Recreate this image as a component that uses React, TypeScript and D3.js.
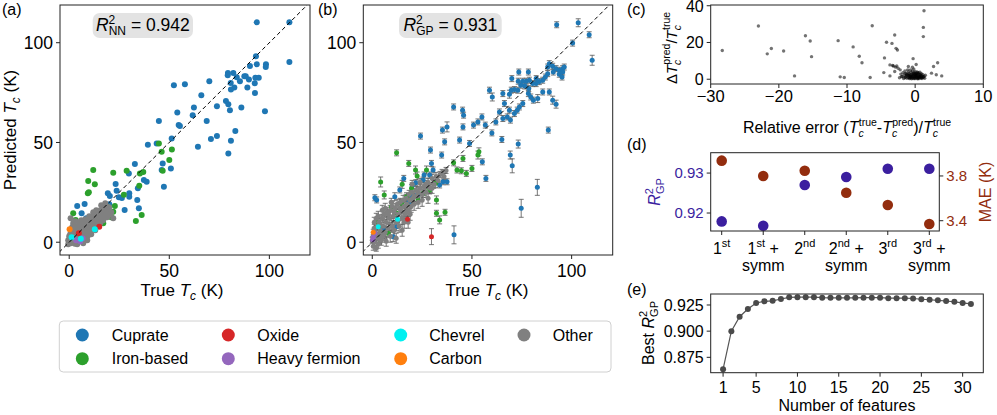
import * as d3 from "d3";
import React from "react";

const FONT = "'Liberation Sans', Arial, Helvetica, sans-serif";

// classes + colours (legend order, column-major)
const classNames = ["Cuprate", "Iron-based", "Oxide", "Heavy fermion", "Chevrel", "Carbon", "Other"];
const classColors = ["#1f77b4", "#2ca02c", "#d62728", "#9467bd", "#00f0f0", "#ff7f0e", "#808080"];

// (a) true Tc vs NN predicted Tc
const cuprateA = [
  [93.7, 110.2], [110, 110.2], [110, 90.3], [93.3, 93.2], [93.7, 89.2], [98.3, 89.2], [90.3, 88.3], [98.2, 87.8],
  [79.3, 84.8], [82, 84.8], [79.2, 83.7], [83.7, 82.7], [87.5, 83.2], [88.2, 83.2], [85.3, 80.7], [89.8, 81.5],
  [80.7, 79.8], [93, 82.5], [94.7, 82.5], [82.5, 77.5], [80.8, 76.5], [89, 77.5], [92.7, 79.7], [92.8, 74.8],
  [70, 80.7], [57.8, 79.2], [52.3, 78.7], [66, 73.7], [78.3, 70.8], [79.5, 69.2], [80.3, 66.2], [86, 67.5],
  [62.3, 67.5], [68.7, 60.8], [54, 65], [61.7, 63.7], [54.7, 58.7], [55.3, 58.2], [44.8, 60.8], [73.8, 68.2],
  [97.8, 65.7], [70.8, 51.8], [73.8, 53.2], [83, 55.7], [80.8, 50.8], [64.3, 47.8], [79.5, 44.5], [51.2, 52],
  [39.3, 48.8], [43.7, 49.5], [32.8, 39.2], [46.7, 39.5], [46.2, 36.2], [50.8, 37], [47.3, 27.8], [37.3, 31.2],
  [38.7, 30.3], [29.8, 34.5], [23.2, 29.2], [19.3, 24.5], [23.7, 25.8], [20.3, 23.2], [24.8, 22.5], [26.3, 22.2],
  [30, 24.5], [30, 22.8], [34.3, 27], [34, 21.2], [34.8, 17], [27.7, 16.2], [4, 18.2], [7.7, 19.2], [6.2, 14.5],
  [14, 14.5], [16.5, 15.5], [12, 13], [18, 18.5], [10.5, 11], [8.5, 12], [20, 19],
];
const ironA = [
  [44.8, 49.5], [46.2, 45.3], [51.3, 46.5], [50, 41.2], [46.7, 35.8], [35.3, 34.5], [37, 35.2], [12, 36.2],
  [22, 34.8], [28.7, 35.8], [9.5, 30.7], [12.8, 29], [9.3, 24.5], [9.8, 25], [27.3, 23.8], [35, 28.3],
  [22.8, 18.2], [33.3, 10.7], [36.2, 13.7], [2, 14.5], [3.2, 11.2], [22, 15.3], [16.2, 14.5], [18.7, 16.2],
  [7.8, 9.5], [17, 9.5], [21, 12.5], [19.5, 17.5], [13.5, 8.5], [5, 8],
];
const otherA = [
  [0, 0.5], [0.3, 2], [0.8, -0.5], [1, 1.2], [1.2, 3], [1.5, 0.3], [1.8, 2.2], [2, 4], [2.2, 1], [2.5, 3],
  [2.8, -0.8], [3, 5], [3, 2], [3.3, 0.5], [3.5, 3.8], [3.8, 6], [4, 1.5], [4.2, 4.5], [4.5, 2.8], [4.8, 7],
  [5, 5], [5.2, 0.8], [5.5, 3.5], [5.8, 6], [6, 8.5], [6.2, 2], [6.5, 4.8], [6.8, 7], [7, 3], [7.3, 9],
  [7.5, 5.5], [7.8, 1.5], [8, 7.5], [8.3, 4], [8.5, 10], [8.8, 6], [9, 8.5], [9.2, 3], [9.5, 11], [9.8, 7],
  [10, 9.5], [10.3, 5], [10.5, 12], [10.8, 8], [11, 10.5], [11.3, 6.5], [11.5, 13], [12, 9], [12.3, 11.5],
  [12.5, 7], [13, 14], [13.2, 10], [13.5, 12.5], [14, 8.5], [14.2, 15], [14.5, 11.5], [15, 13.5], [15.5, 16],
  [16, 12], [16.5, 14.5], [17, 17], [17.5, 13], [18, 15.5], [18.5, 18], [19, 16.5], [19.5, 14], [20, 17.5],
  [21, 15], [22, 12], [1, 6], [2, 8], [0.5, 4], [-0.5, 1], [0.7, 12], [3, 10.5], [6, 11], [4, -1], [7, -0.5],
  [9, 1], [2, 9.5], [5, 10], [1.5, 7.5], [3.5, 8], [6.5, 9.5], [8, 11.5], [10, 13], [12, 15], [13.5, 16],
  [16, 18.5], [18, 19.5], [11, 4], [13, 6], [15.5, 9.5], [17, 11], [19, 12.5], [20.5, 14], [0, 3], [-0.5, -1],
];
const oxideA = [[15, 7.8], [4.8, 4.5]];
const hfA = [[6.7, 2], [3.5, 1], [5.5, 0.5]];
const chevrelA = [[12.8, 6.5], [1.2, 2.5], [5.8, 1.7]];
const carbonA = [[0.2, 6.5]];

// (b) true Tc vs GP predicted Tc with std
const cuprateB = [
  [92.5, 109, 1.5], [103.3, 110, 2], [108.8, 104, 1.5], [100.5, 99.8, 1.5], [110.3, 91.2, 2.5],
  [88.8, 89.5, 1.5], [88, 87.8, 1.5], [90.5, 88.2, 1.5], [92.2, 87, 1.5], [93.8, 86.2, 1.5], [95.5, 87, 1.5],
  [90.8, 85.3, 1.5], [88, 84.5, 1.5], [86.8, 82.8, 1.5], [85.5, 81.2, 1.5], [83.8, 80.5, 1.5], [82.2, 79.5, 1.5],
  [78.8, 81.2, 1.5], [77.2, 80.7, 1.5], [75.5, 80.7, 1.5], [73.2, 80.7, 1.5], [74.5, 78.7, 1.5], [76.5, 78.3, 1.5],
  [78.5, 77, 1.5], [80.5, 79.5, 1.5], [82.2, 82, 1.5], [73, 76.2, 1.5], [71.3, 76.5, 1.5], [69.7, 76.2, 1.5],
  [78.3, 74.5, 1.5], [79.5, 72.8, 1.5], [80.8, 71.2, 1.5], [83, 72, 2], [85.5, 75.3, 1.5], [88.8, 75.3, 1.5],
  [90.5, 71.2, 2], [93.8, 84.2, 1.5], [95.5, 85.3, 1.5], [96.3, 87.8, 1.5], [95.2, 82.8, 1.5], [65.5, 74.5, 1.5],
  [68.8, 74.2, 2], [73.5, 85.3, 1.5], [78.3, 85.3, 1.5], [70, 82, 1.5], [58.8, 76.2, 1.5], [60.2, 72.8, 2],
  [66.3, 69.5, 1.5], [68.8, 66.2, 1.5], [71.3, 64.5, 1.5], [72.7, 66.2, 1.5], [73.8, 67.8, 1.5], [75.5, 69.5, 1.5],
  [63.8, 65.3, 1.5], [65.5, 62, 1.5], [67.7, 62.8, 1.5], [69.3, 61.2, 1.5], [62, 60.3, 1.5], [56.7, 58.7, 1.5],
  [55, 62.8, 1.5], [53, 60.3, 1.5], [50.8, 58.7, 1.5], [45.5, 57.8, 1.5], [37.5, 57.8, 2.5], [40.8, 67.8, 1.5],
  [45.3, 66.2, 1.5], [45.8, 63.7, 1.5], [35.2, 56.2, 1.5], [36.3, 50.3, 1.5], [24.2, 53.2, 1.5], [43.8, 51.2, 1.5],
  [48.8, 49.5, 1.5], [60, 54.8, 1.5], [65, 51.5, 1.5], [73.2, 49.2, 2], [88.3, 56.2, 1.5], [92.2, 69.2, 2],
  [69.2, 43.7, 2], [70.2, 38.3, 3.5], [55.2, 40.3, 1.5], [57, 32, 1.5], [82.8, 27.5, 4], [74.7, 17, 4.5],
  [41, 3.7, 4.5], [29.2, 46.2, 1.5], [34.8, 43.7, 1.5], [29.7, 39.5, 1.5], [30.5, 36.2, 1.5], [28.8, 33.7, 1.5],
  [25.5, 31.2, 1.5], [26, 33.7, 1.5], [35.5, 30.3, 1.5], [37.5, 30.3, 1.5], [33.8, 28.7, 1.5], [19.7, 23.7, 1.5],
  [22.7, 23.7, 1.5], [18.5, 20.3, 1.5], [13.8, 26.2, 1.5], [11.3, 22.8, 2], [1.3, 22.3, 1.5], [2.2, 21.2, 1.5],
  [15.8, 32, 1.5], [20, 28.3, 1.5], [21.8, 29.8, 1.5], [12.2, 7.8, 2], [10.5, 2.8, 2.5], [5.5, 6.2, 2],
];
const ironB = [
  [12.2, 44.8, 1.5], [18.3, 39.5, 1.5], [4.2, 30.2, 2.5], [6, 23.7, 2], [15, 29, 2], [19.7, 27, 2],
  [21.7, 36.2, 2], [22.5, 33.2, 2], [27.2, 36.2, 2], [31.8, 29.5, 2], [36.5, 15, 1.5], [33.8, 11.2, 2],
  [32.2, 14.5, 1.5], [40.8, 39.8, 1.5], [45.5, 42, 1.5], [53.5, 45.3, 2], [53, 43.7, 2], [42.5, 36.2, 1.5],
  [44.7, 35.8, 1.5], [47.2, 34.5, 1.5], [50, 37, 1.5], [9.7, 17.8, 2], [14.7, 19.5, 2], [2.2, 10.3, 2],
  [3.8, 1.5, 2], [8, 4.5, 2], [12.2, 14.5, 2], [25.5, 24.5, 2], [28.8, 26.2, 2], [32.2, 21.2, 2], [23, 21.2, 2],
  [17.2, 22.8, 2],
];
const otherB = [
  [0, 1, 1.5], [0.5, 3, 2], [1, 0, 2], [1.5, 5, 2], [2, 2, 2.5], [2.5, 8, 2], [3, 4, 3], [3, -1, 2],
  [3.5, 10, 2.5], [4, 6, 3], [4.5, 1, 2.5], [5, 12, 2], [5, 3, 3], [5.5, 8, 3], [6, 14, 2.5], [6.5, 5, 3],
  [7, 10, 3], [7, 0.5, 2.5], [7.5, 15, 2.5], [8, 7, 3], [8.5, 12, 3], [9, 3, 3], [9, 16, 2.5], [9.5, 9, 3],
  [10, 18, 2.5], [10.5, 13, 3], [11, 6, 3], [11.5, 17, 2.5], [12, 10, 3], [12.5, 19, 2.5], [13, 14, 3],
  [13.5, 8, 3], [14, 20, 2], [14.5, 16, 3], [15, 12, 3], [15.5, 21, 2.5], [16, 18, 2.5], [16.5, 14, 3],
  [17, 22, 2], [17.5, 19, 2.5], [18, 16, 3], [18.5, 24, 2], [19, 21, 2.5], [19.5, 18, 3], [20, 25, 2],
  [20.5, 22, 2.5], [21, 19, 3], [22, 26, 2], [22.5, 23, 2.5], [23, 20, 3], [24, 27, 2], [25, 24, 2.5],
  [26, 28, 2], [27, 25, 2.5], [28, 30, 2], [29, 27, 2], [30, 32, 2], [31, 29, 2], [32, 33, 2], [33, 31, 2],
  [34, 34, 1.5], [35, 35, 1.5], [36, 33, 1.5], [37, 36, 1.5], [24, 30, 2], [20, 29, 2], [28, 22, 2.5],
  [12, 2, 2.5], [15, 6, 3], [18, 10, 3], [5, 16, 2.5], [2, 12, 2.5], [1, 7, 2], [0.5, -2, 2], [2, -3, 1.5],
  [4, 9, 3], [6, 4, 3], [8, 14, 2.5], [10, 8, 3], [11, 15, 3], [13, 11, 3], [14, 17, 2.5], [16, 10, 3],
  [17, 15, 3], [19, 14, 3], [21, 23, 2.5], [23, 25, 2.5], [25, 21, 3], [26, 26, 2.5], [27, 29, 2], [30, 27, 2.5],
  [1, 10, 2.5], [3, 13, 2.5], [6.5, 17, 2.5], [9.5, 20, 2], [1.5, 2.5, 2], [4.5, 4.5, 3], [3.5, 1.5, 2.5],
];
const oxideB = [[29.7, 2.8, 4], [17.7, 11.5, 2]];
const hfB = [[0.2, 1.2, 1.5], [1.3, 4.5, 1.5], [0.5, 2.5, 1.5]];
const chevrelB = [[12.7, 11.5, 1.5], [3, 7.8, 1.5]];
const carbonB = [[0.5, 5, 1.5]];

// (c) relative error vs relative std
const relErr = [
  [-28.3, 15.6], [-23, 29], [-21.7, 13.8], [-21.1, 16.7], [-19.3, 15.4], [-17.7, 1.8], [-16.1, 23.7],
  [-15.4, 20.8], [-15.2, 12.3], [-11.3, 21], [-11, 1.3], [-10.4, 0.9], [-9.1, 17.6], [-8.2, 12.5], [-7.8, 9],
  [-6.6, 0.9], [-6.3, 29.1], [-4.5, 11.6], [-4.2, 20.1], [-3.4, 19.5], [-3, 24.1], [-2.8, 16.8], [-2.6, 15.9],
  [-0.3, 11.2], [0.15, 8], [1.3, 37.3], [1.2, 28.2], [1.2, 23.2], [3.3, 9], [2.7, 6.9], [-4.6, 3.6],
  [-3.7, 1.8], [-3, 4.2], [-3.7, 7.8], [-3.2, 7.2], [-2.7, 7.2], [-2.5, 6], [-2.2, 5.1], [-1.1, 5.1],
  [-1, 6.9], [-0.4, 6.5], [2.4, 3.3], [3.1, 2.4], [3.9, 1.8], [-2, 1.4], [-3.3, 7.5], [-2.9, 6.6],
  [-1.8, 3.5], [-1.6, 2.2], [-1.5, 4.5], [-1.4, 1.2], [-1.3, 3], [-1.2, 0.5], [-1.1, 2], [-1, 4], [-1, 1],
  [-0.9, 3.2], [-0.8, 0.3], [-0.8, 2.5], [-0.7, 5], [-0.7, 1.5], [-0.6, 3.8], [-0.6, 0.8], [-0.5, 2.8],
  [-0.5, 0.2], [-0.4, 4.5], [-0.4, 1.8], [-0.3, 3.2], [-0.3, 0.6], [-0.2, 2.2], [-0.2, 5.5], [-0.1, 1.2],
  [-0.1, 3.6], [0, 0.4], [0, 2.6], [0, 4.2], [0.1, 1.6], [0.1, 3], [0.2, 0.8], [0.2, 2], [0.3, 4], [0.3, 1.2],
  [0.4, 2.8], [0.4, 0.5], [0.5, 1.8], [0.5, 3.4], [0.6, 0.9], [0.6, 2.4], [0.7, 1.4], [0.7, 3.8], [0.8, 0.6],
  [0.8, 2], [0.9, 1.2], [0.9, 3], [1, 0.4], [1, 1.8], [1.1, 2.6], [1.2, 0.9], [1.3, 1.6], [1.4, 0.5],
  [1.5, 2.2], [-1.9, 1.5], [-2.1, 2.8], [-2.3, 0.8], [-1.7, 0.4], [0.05, 1.9], [-0.35, 2.4], [0.25, 2.9],
  [-0.15, 0.3], [0.45, 1.1], [-0.55, 1.4], [0.65, 1.7], [-0.25, 1.5], [-0.75, 0.9], [0.35, 0.2], [-0.45, 0.7],
  [-1.5, 0.8], [-1.3, 1.8], [-1.2, 2.6], [-0.9, 0.6], [-0.85, 1.8], [-0.65, 2.1], [-0.05, 0.8], [0.15, 2.4],
  [0.55, 0.3], [0.75, 2.6], [0.95, 0.8], [1.15, 1.4], [-1.45, 3.2], [-0.95, 2.3], [-0.15, 3.1], [0.35, 3.5],
];

// (d) descriptor order comparison
const orderLabels = ["1st", "1st+s", "2nd", "2nd+s", "3rd", "3rd+s"];
const orderBase = ["1", "1", "2", "2", "3", "3"];
const orderSup = ["st", "st", "nd", "nd", "rd", "rd"];
const orderSymm = [false, true, false, true, false, true];
const r2Values = [0.9179, 0.9168, 0.927, 0.929, 0.9311, 0.9311];
const maeValues = [3.937, 3.8, 3.847, 3.65, 3.54, 3.37];

// (e) best R2 vs number of features
const nFeatures = d3.range(1, 32);
const bestR2 = [
  0.8636, 0.9, 0.9138, 0.9212, 0.9269, 0.9285, 0.929, 0.9307, 0.9323, 0.9325, 0.9325, 0.9325, 0.932, 0.9318,
  0.9318, 0.9318, 0.9318, 0.932, 0.932, 0.932, 0.9315, 0.9315, 0.9315, 0.9312, 0.9305, 0.93, 0.9295, 0.9288,
  0.928, 0.927, 0.926,
];

const purple = "#3b1f9f";
const brown = "#932d0e";
const frame = "#222";

function Frame({ x0, x1, y0, y1 }) {
  return <rect x={x0} y={y0} width={x1 - x0} height={y1 - y0} fill="none" stroke={frame} strokeWidth={1} />;
}

function XTicks({ scale, ticks, y, fmt = (d) => String(d), fs = 16, dy = 20 }) {
  return (
    <g>
      {ticks.map((t) => (
        <g key={t}>
          <line x1={scale(t)} x2={scale(t)} y1={y} y2={y + 4} stroke={frame} />
          <text x={scale(t)} y={y + dy} textAnchor="middle" fontSize={fs}>
            {fmt(t)}
          </text>
        </g>
      ))}
    </g>
  );
}

function YTicks({ scale, ticks, x, fmt = (d) => String(d), fs = 16, color = "#000", right = false }) {
  const s = right ? 1 : -1;
  return (
    <g>
      {ticks.map((t) => (
        <g key={t}>
          <line x1={x} x2={x + s * 4} y1={scale(t)} y2={scale(t)} stroke={frame} />
          <text
            x={x + s * 7}
            y={scale(t) + fs * 0.36}
            textAnchor={right ? "start" : "end"}
            fontSize={fs}
            fill={color}
          >
            {fmt(t)}
          </text>
        </g>
      ))}
    </g>
  );
}

function TcLabel({ prefix, x, y, rotate = false, fs = 17 }) {
  return (
    <text
      x={x}
      y={y}
      textAnchor="middle"
      fontSize={fs}
      transform={rotate ? `rotate(-90 ${x} ${y})` : undefined}
    >
      {prefix}
      <tspan fontStyle="italic">T</tspan>
      <tspan fontStyle="italic" fontSize={fs * 0.7} dy={4}>c</tspan>
      <tspan dy={-4}> (K)</tspan>
    </text>
  );
}

// T_c with a superscript; the text after it goes back on the baseline
function TcSup({ sup, after }) {
  return (
    <>
      <tspan fontStyle="italic">T</tspan>
      <tspan fontStyle="italic" fontSize={10.5} dy={4}>c</tspan>
      <tspan fontSize={10.5} dx={-5} dy={-11}>{sup}</tspan>
      {after ? <tspan dy={7}>{after}</tspan> : null}
    </>
  );
}

function R2Box({ x0, x1, sub, value }) {
  return (
    <g>
      <rect x={x0} y={13} width={x1 - x0} height={25} rx={7} fill="#e3e3e3" />
      <text x={(x0 + x1) / 2} y={31} textAnchor="middle" fontSize={17.5}>
        <tspan fontStyle="italic">R</tspan>
        <tspan fontSize={12} dy={-7}>2</tspan>
        <tspan fontSize={12} dx={-6.5} dy={11}>{sub}</tspan>
        <tspan dy={-4}>{` = ${value}`}</tspan>
      </text>
    </g>
  );
}

function Scatter({ data, color, xs, ys, r }) {
  return (
    <g>
      {data.map((d, i) => (
        <circle key={i} cx={xs(d[0])} cy={ys(d[1])} r={r} fill={color} />
      ))}
    </g>
  );
}

function ErrBars({ data, xs, ys }) {
  return (
    <g stroke="#555" strokeOpacity={0.8} strokeWidth={1}>
      {data.map((d, i) => {
        const x = xs(d[0]);
        const yt = ys(d[1] + d[2]);
        const yb = ys(d[1] - d[2]);
        return (
          <g key={i}>
            <line x1={x} x2={x} y1={yt} y2={yb} />
            <line x1={x - 2.5} x2={x + 2.5} y1={yt} y2={yt} />
            <line x1={x - 2.5} x2={x + 2.5} y1={yb} y2={yb} />
          </g>
        );
      })}
    </g>
  );
}

export default function App() {
  // panel (a) / (b)
  const xA = d3.scaleLinear().domain([-4.6, 120.3]).range([60, 310]);
  const yA = d3.scaleLinear().domain([-6.4, 118.9]).range([255, 5]);
  const xB = d3.scaleLinear().domain([-4.5, 120.6]).range([363.3, 612.7]);
  const yB = yA;
  const tickAB = [0, 50, 100];

  const setsA = [cuprateA, ironA, oxideA, hfA, chevrelA, carbonA, otherA];
  const setsB = [cuprateB, ironB, oxideB, hfB, chevrelB, carbonB, otherB];
  const drawOrder = [0, 1, 6, 2, 3, 4, 5];

  // panel (c)
  const xC = d3.scaleLinear().domain([-30, 10]).range([710.7, 983.3]);
  const yC = d3.scaleLinear().domain([-2.6, 40.4]).range([84, 5]);

  // panel (d)
  const xD = d3.scalePoint().domain(orderLabels).range([721.7, 929.3]);
  const yDL = d3.scaleLinear().domain([0.9155, 0.9351]).range([231, 152.7]);
  const yDR = d3.scaleLinear().domain([3.308, 4.008]).range([231, 152.7]);

  // panel (e)
  const xE = d3.scaleLinear().domain([-0.5, 32.5]).range([710.7, 983.3]);
  const yE = d3.scaleLinear().domain([0.8603, 0.9355]).range([372.7, 294]);
  const lineE = d3
    .line()
    .x((d) => xE(d[0]))
    .y((d) => yE(d[1]));
  const eData = nFeatures.map((n, i) => [n, bestR2[i]]);

  const diagA = [-10, 125];

  return (
    <svg
      width={997}
      height={415}
      style={{ position: "absolute", left: 0, top: 0, fontFamily: FONT, background: "#fff" }}
    >
      <rect width={997} height={415} fill="#fff" />

      {/* ---------- (a) ---------- */}
      <text x={2} y={15} fontSize={16}>(a)</text>
      <clipPath id="clipA">
        <rect x={60} y={5} width={250} height={250} />
      </clipPath>
      <clipPath id="clipB">
        <rect x={363.3} y={5} width={249.4} height={250} />
      </clipPath>
      <g clipPath="url(#clipA)">
        {drawOrder.map((k) => (
          <Scatter key={k} data={setsA[k]} color={classColors[k]} xs={xA} ys={yA} r={3} />
        ))}
        <line
          x1={xA(diagA[0])}
          y1={yA(diagA[0])}
          x2={xA(diagA[1])}
          y2={yA(diagA[1])}
          stroke="#000"
          strokeDasharray="4,3"
          strokeWidth={1}
        />
      </g>
      <R2Box x0={92.7} x1={193} sub="NN" value="0.942" />
      <Frame x0={60} x1={310} y0={5} y1={255} />
      <XTicks scale={xA} ticks={tickAB} y={255} fs={17.5} dy={22} />
      <YTicks scale={yA} ticks={tickAB} x={60} fs={17.5} />
      <TcLabel prefix="True " x={182} y={296} />
      <TcLabel prefix="Predicted " x={16} y={130} rotate />

      {/* ---------- (b) ---------- */}
      <text x={318} y={15} fontSize={16}>(b)</text>
      <g clipPath="url(#clipB)">
        {drawOrder.map((k) => (
          <ErrBars key={"e" + k} data={setsB[k]} xs={xB} ys={yB} />
        ))}
        {drawOrder.map((k) => (
          <Scatter key={k} data={setsB[k]} color={classColors[k]} xs={xB} ys={yB} r={2.5} />
        ))}
        <line
          x1={xB(diagA[0])}
          y1={yB(diagA[0])}
          x2={xB(diagA[1])}
          y2={yB(diagA[1])}
          stroke="#000"
          strokeDasharray="4,3"
          strokeWidth={1}
        />
      </g>
      <R2Box x0={399} x1={501.7} sub="GP" value="0.931" />
      <Frame x0={363.3} x1={612.7} y0={5} y1={255} />
      <XTicks scale={xB} ticks={tickAB} y={255} fs={17.5} dy={22} />
      <YTicks scale={yB} ticks={tickAB} x={363.3} fs={17.5} />
      <TcLabel prefix="True " x={487} y={296} />

      {/* ---------- legend ---------- */}
      <rect x={59.3} y={321} width={551.7} height={51} rx={4} fill="#fff" stroke="#d0d0d0" strokeWidth={1} />
      {classNames.map((name, i) => {
        const colX = [82.3, 228.3, 400.7, 524][Math.floor(i / 2)];
        const textX = [111.7, 257.3, 429.3, 552.7][Math.floor(i / 2)];
        const rowY = [335, 358.7][i % 2];
        return (
          <g key={name}>
            <circle cx={colX} cy={rowY} r={6.5} fill={classColors[i]} />
            <text x={textX} y={rowY + 5.5} fontSize={16}>
              {name}
            </text>
          </g>
        );
      })}

      {/* ---------- (c) ---------- */}
      <text x={627} y={15} fontSize={16}>(c)</text>
      <g>
        {relErr.map((d, i) => (
          <circle key={i} cx={xC(d[0])} cy={yC(d[1])} r={1.7} fill="#000" fillOpacity={0.55} />
        ))}
      </g>
      <Frame x0={710.7} x1={983.3} y0={5} y1={84} />
      <XTicks
        scale={xC}
        ticks={[-30, -20, -10, 0, 10]}
        y={84}
        fs={16.5}
        dy={18}
        fmt={(d) => (d < 0 ? "\u2212" + -d : String(d))}
      />
      <YTicks scale={yC} ticks={[0, 20, 40]} x={710.7} fs={16} />
      <text x={847} y={133} textAnchor="middle" fontSize={16}>
        Relative error (
        <TcSup sup="true" after="-" />
        <TcSup sup="pred" after=")/" />
        <TcSup sup="true" />
      </text>
      <text x={677} y={48} textAnchor="middle" fontSize={15} transform="rotate(-90 677 48)">
        {"\u0394"}
        <TcSup sup="pred" after="/" />
        <TcSup sup="true" />
      </text>

      {/* ---------- (d) ---------- */}
      <text x={627} y={150} fontSize={16}>(d)</text>
      {orderLabels.map((l, i) => (
        <circle key={"m" + l} cx={xD(l)} cy={yDR(maeValues[i])} r={5.3} fill={brown} />
      ))}
      {orderLabels.map((l, i) => (
        <circle key={"r" + l} cx={xD(l)} cy={yDL(r2Values[i])} r={5.3} fill={purple} />
      ))}
      <Frame x0={710.7} x1={939.3} y0={152.7} y1={231} />
      <YTicks scale={yDL} ticks={[0.92, 0.93]} x={710.7} color={purple} fs={15} />
      <YTicks scale={yDR} ticks={[3.4, 3.8]} x={939.3} color={brown} fs={15} right />
      {orderLabels.map((l, i) => (
        <g key={"t" + l}>
          <line x1={xD(l)} x2={xD(l)} y1={231} y2={235} stroke={frame} />
          <text x={xD(l)} y={254} textAnchor="middle" fontSize={16}>
            {orderBase[i]}
            <tspan fontSize={11} dy={-7}>{orderSup[i]}</tspan>
            {orderSymm[i] ? <tspan dy={7}>{" +"}</tspan> : null}
          </text>
          {orderSymm[i] && (
            <text x={xD(l)} y={271} textAnchor="middle" fontSize={16}>
              symm
            </text>
          )}
        </g>
      ))}
      <text x={660} y={192} textAnchor="middle" fontSize={16} fill={purple} transform="rotate(-90 660 192)">
        <tspan fontStyle="italic">R</tspan>
        <tspan fontSize={11} dy={-7}>2</tspan>
        <tspan fontSize={11} dx={-6} dy={11}>GP</tspan>
      </text>
      <text x={991} y={192} textAnchor="middle" fontSize={16} fill={brown} transform="rotate(-90 991 192)">
        MAE (K)
      </text>

      {/* ---------- (e) ---------- */}
      <text x={627} y={295} fontSize={16}>(e)</text>
      <path d={lineE(eData)} fill="none" stroke="#555" strokeWidth={1.2} />
      {eData.map((d, i) => (
        <circle key={i} cx={xE(d[0])} cy={yE(d[1])} r={3} fill="#4a4a4a" />
      ))}
      <Frame x0={710.7} x1={983.3} y0={294} y1={372.7} />
      <XTicks scale={xE} ticks={[1, 5, 10, 15, 20, 25, 30]} y={372.7} />
      <YTicks scale={yE} ticks={[0.875, 0.9, 0.925]} x={710.7} fmt={d3.format(".3f")} />
      <text x={847} y={411} textAnchor="middle" fontSize={16}>
        Number of features
      </text>
      <text x={654} y={333} textAnchor="middle" fontSize={16} transform="rotate(-90 654 333)">
        Best <tspan fontStyle="italic">R</tspan>
        <tspan fontSize={11} dy={-7}>2</tspan>
        <tspan fontSize={11} dx={-6} dy={11}>GP</tspan>
      </text>
    </svg>
  );
}
